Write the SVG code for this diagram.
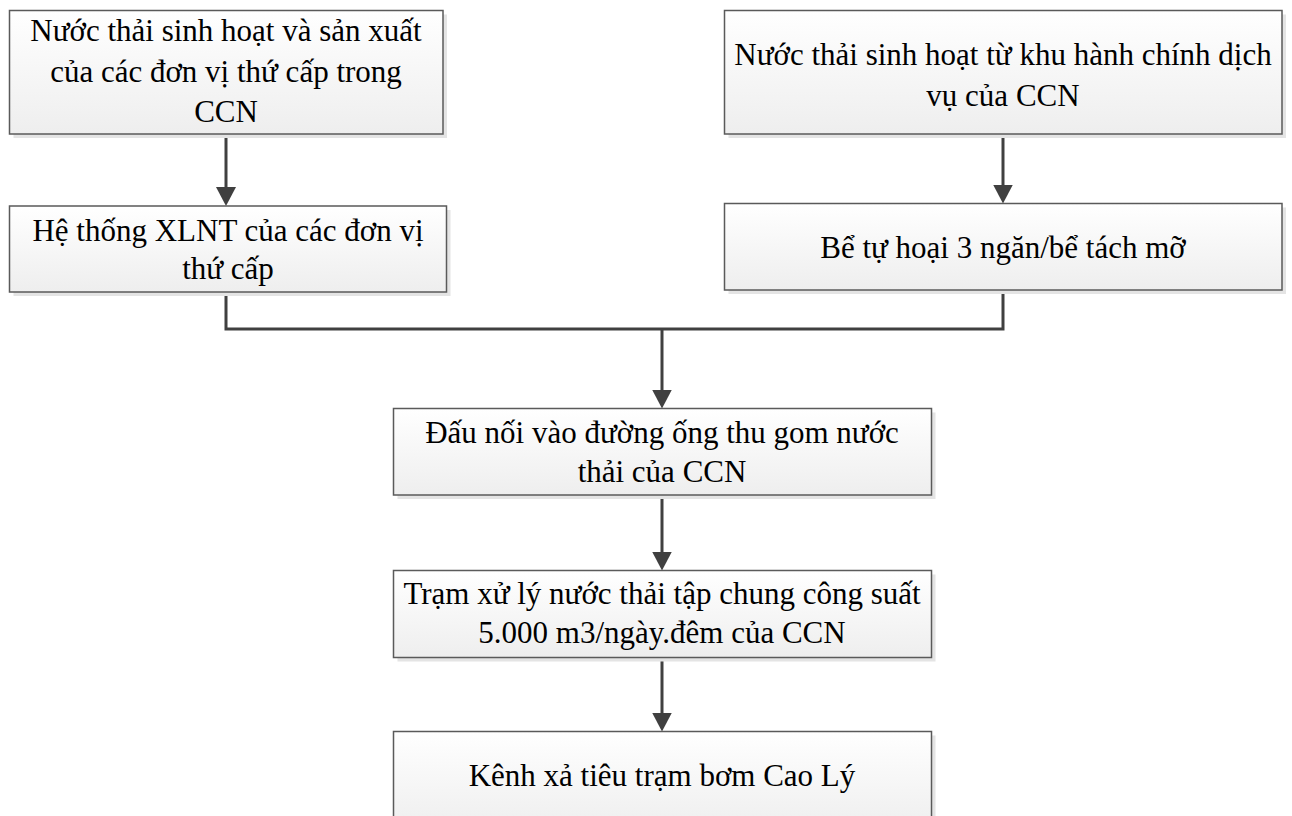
<svg xmlns="http://www.w3.org/2000/svg" width="1292" height="816" viewBox="0 0 1292 816">
  <style>
    .box { fill: url(#boxFill); stroke: #5a5a5a; stroke-width: 1.5; }
    .shadow { fill: #e4e4e4; }
    .label { font-family: "Liberation Serif", "Times New Roman", serif; font-size: 31px; fill: #000; text-anchor: middle; }
    .wire { fill: none; stroke: #404040; stroke-width: 3; }
    .arrow { marker-end: url(#head); }
  </style>
  <defs>
    <linearGradient id="boxFill" x1="0" y1="0" x2="0" y2="1">
      <stop offset="0" stop-color="#ffffff"/>
      <stop offset="1" stop-color="#eeeeee"/>
    </linearGradient>
    <marker id="head" viewBox="0 0 19 20" markerWidth="19" markerHeight="20" refX="9" refY="10" orient="auto" markerUnits="userSpaceOnUse">
      <path d="M0,0 L19,10 L0,20 z" fill="#404040"/>
    </marker>
  </defs>
  <rect width="1292" height="816" fill="#ffffff"/>

  <g id="connectors">
    <line class="wire arrow" x1="226" y1="134" x2="226" y2="196"/>
    <line class="wire arrow" x1="1003" y1="134" x2="1003" y2="193.5"/>
    <polyline class="wire" points="226,292 226,329 1003,329 1003,290"/>
    <line class="wire arrow" x1="662" y1="329" x2="662" y2="398.5"/>
    <line class="wire arrow" x1="662" y1="495" x2="662" y2="560.5"/>
    <line class="wire arrow" x1="662" y1="657.5" x2="662" y2="721.5"/>
  </g>

  <g id="n1">
    <rect class="shadow" x="13.5" y="14.5" width="433.5" height="123.5"/>
    <rect class="box" x="9.5" y="10.5" width="433.5" height="123.5"/>
    <text class="label" x="226" y="41">Nước thải sinh hoạt và sản xuất</text>
    <text class="label" x="226" y="82">của các đơn vị thứ cấp trong</text>
    <text class="label" x="226" y="122">CCN</text>
  </g>

  <g id="n2">
    <rect class="shadow" x="13.5" y="210" width="437" height="86"/>
    <rect class="box" x="9.5" y="206" width="437" height="86"/>
    <text class="label" x="228" y="241">Hệ thống XLNT của các đơn vị</text>
    <text class="label" x="228" y="279">thứ cấp</text>
  </g>

  <g id="n3">
    <rect class="shadow" x="728.5" y="14.5" width="557.5" height="123.5"/>
    <rect class="box" x="724.5" y="10.5" width="557.5" height="123.5"/>
    <text class="label" x="1003" y="65">Nước thải sinh hoạt từ khu hành chính dịch</text>
    <text class="label" x="1003" y="106">vụ của CCN</text>
  </g>

  <g id="n4">
    <rect class="shadow" x="728.5" y="207.5" width="557.5" height="86.5"/>
    <rect class="box" x="724.5" y="203.5" width="557.5" height="86.5"/>
    <text class="label" x="1003" y="258">Bể tự hoại 3 ngăn/bể tách mỡ</text>
  </g>

  <g id="n5">
    <rect class="shadow" x="397.5" y="412.5" width="538" height="86.5"/>
    <rect class="box" x="393.5" y="408.5" width="538" height="86.5"/>
    <text class="label" x="662" y="443">Đấu nối vào đường ống thu gom nước</text>
    <text class="label" x="662" y="482">thải của CCN</text>
  </g>

  <g id="n6">
    <rect class="shadow" x="397.5" y="574.5" width="538" height="87"/>
    <rect class="box" x="393.5" y="570.5" width="538" height="87"/>
    <text class="label" x="662" y="604">Trạm xử lý nước thải tập chung công suất</text>
    <text class="label" x="662" y="643">5.000 m3/ngày.đêm của CCN</text>
  </g>

  <g id="n7">
    <rect class="shadow" x="397.5" y="735.5" width="538" height="100"/>
    <rect class="box" x="393.5" y="731.5" width="538" height="100"/>
    <text class="label" x="662" y="786">Kênh xả tiêu trạm bơm Cao Lý</text>
  </g>
</svg>
